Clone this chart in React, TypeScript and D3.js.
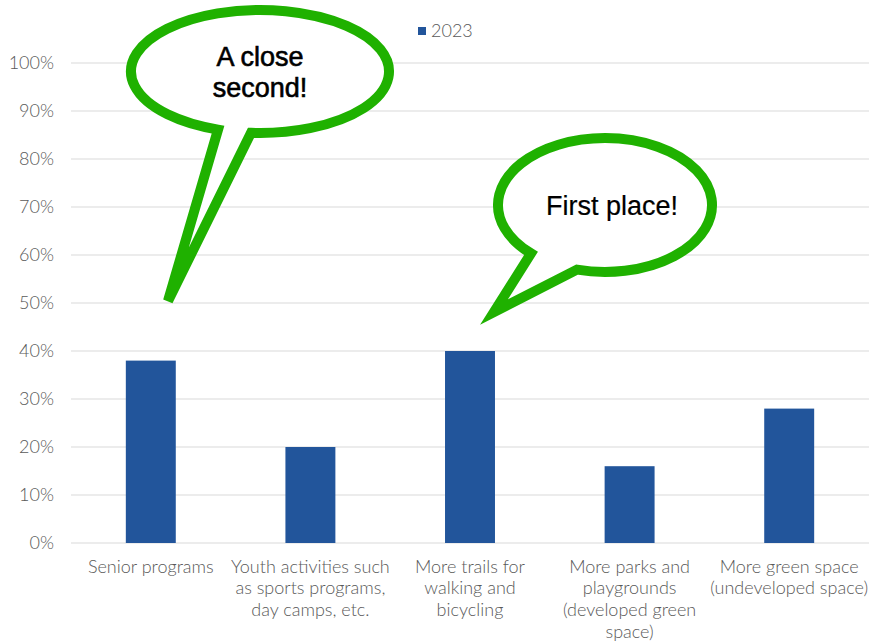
import React from "react";
import * as d3 from "d3";

const categories: string[][] = [
  ["Senior programs"],
  ["Youth activities such", "as sports programs,", "day camps, etc."],
  ["More trails for", "walking and", "bicycling"],
  ["More parks and", "playgrounds", "(developed green", "space)"],
  ["More green space", "(undeveloped space)"],
];
const values2023: number[] = [0.38, 0.2, 0.4, 0.16, 0.28];
const yTicks: number[] = [0, 0.1, 0.2, 0.3, 0.4, 0.5, 0.6, 0.7, 0.8, 0.9, 1.0];
const seriesName = "2023";

const W = 870;
const H = 641;
const plotLeft = 71;
const plotRight = 869;
const plotTop = 63;
const plotBottom = 543;

const BAR = "#22559b";
const GRID = "#d9d9d9";
const TEXT = "#595959";
const GREEN = "#1fb100";
const FONT = "Lato, 'Open Sans', sans-serif";

type Bubble = {
  cx: number; cy: number; rx: number; ry: number;
  baseL: number; baseR: number; tip: [number, number];
  lines: string[]; textY: number[]; textX: number; heavy: number;
};

const bubbles: Bubble[] = [
  { cx: 260, cy: 71.5, rx: 129, ry: 61.5, baseL: 218, baseR: 251, tip: [168, 301],
    lines: ["A close", "second!"], textY: [57, 88], textX: 260, heavy: 0.6 },
  { cx: 605, cy: 205, rx: 107, ry: 67, baseL: 531, baseR: 577, tip: [494, 312],
    lines: ["First place!"], textY: [206], textX: 612, heavy: 0.2 },
];

function bubblePath(b: Bubble): string {
  const yAt = (x: number) => {
    const c = (x - b.cx) / b.rx;
    return b.cy + b.ry * Math.sqrt(Math.max(0, 1 - c * c));
  };
  const rY = yAt(b.baseR);
  const lY = yAt(b.baseL);
  return `M${b.baseR},${rY} A${b.rx},${b.ry} 0 1 0 ${b.baseL},${lY} L${b.tip[0]},${b.tip[1]} Z`;
}

export default function App() {
  const x = d3
    .scaleBand<number>()
    .domain(d3.range(categories.length))
    .range([plotLeft, plotRight])
    .paddingInner(0.687)
    .paddingOuter(0.687 / 2);
  const y = d3.scaleLinear().domain([0, 1]).range([plotBottom, plotTop]);
  const fmt = d3.format(".0%");

  return (
    <svg width={W} height={H} style={{ position: "absolute", left: 0, top: 0, background: "#fff" }}>
      <rect x={0} y={0} width={W} height={H} fill="#fff" />
      {yTicks.map((t) => (
        <g key={t}>
          <line x1={plotLeft} x2={plotRight} y1={y(t)} y2={y(t)} stroke={GRID} strokeWidth={1} />
          <text x={54} y={y(t)} dy="0.35em" textAnchor="end" fontFamily={FONT} fontWeight={300}
            fontSize={18} fill={TEXT}>{fmt(t)}</text>
        </g>
      ))}
      {values2023.map((v, i) => (
        <rect key={i} x={x(i)!} y={y(v)} width={x.bandwidth()} height={y(0) - y(v)} fill={BAR} />
      ))}
      {categories.map((lines, i) => (
        <text key={i} textAnchor="middle" fontFamily={FONT} fontWeight={300} fontSize={18} fill={TEXT}>
          {lines.map((l, j) => (
            <tspan key={j} x={x(i)! + x.bandwidth() / 2} y={566.5 + j * 21.6} dy="0.35em">{l}</tspan>
          ))}
        </text>
      ))}
      <rect x={418} y={27} width={8} height={8} fill={BAR} />
      <text x={431} y={31} dy="0.35em" fontFamily={FONT} fontWeight={300} fontSize={18} fill={TEXT}>{seriesName}</text>
      {bubbles.map((b, i) => (
        <g key={i}>
          <path d={bubblePath(b)} fill="#fff" stroke={GREEN} strokeWidth={10} strokeLinejoin="miter" strokeMiterlimit={4} />
          {b.lines.map((l, j) => (
            <text key={j} x={b.textX} y={b.textY[j]} dy="0.35em" textAnchor="middle"
              fontFamily="'Liberation Sans', Arial, sans-serif" fontSize={27} fill="#000"
              stroke="#000" strokeWidth={b.heavy}>{l}</text>
          ))}
        </g>
      ))}
    </svg>
  );
}
